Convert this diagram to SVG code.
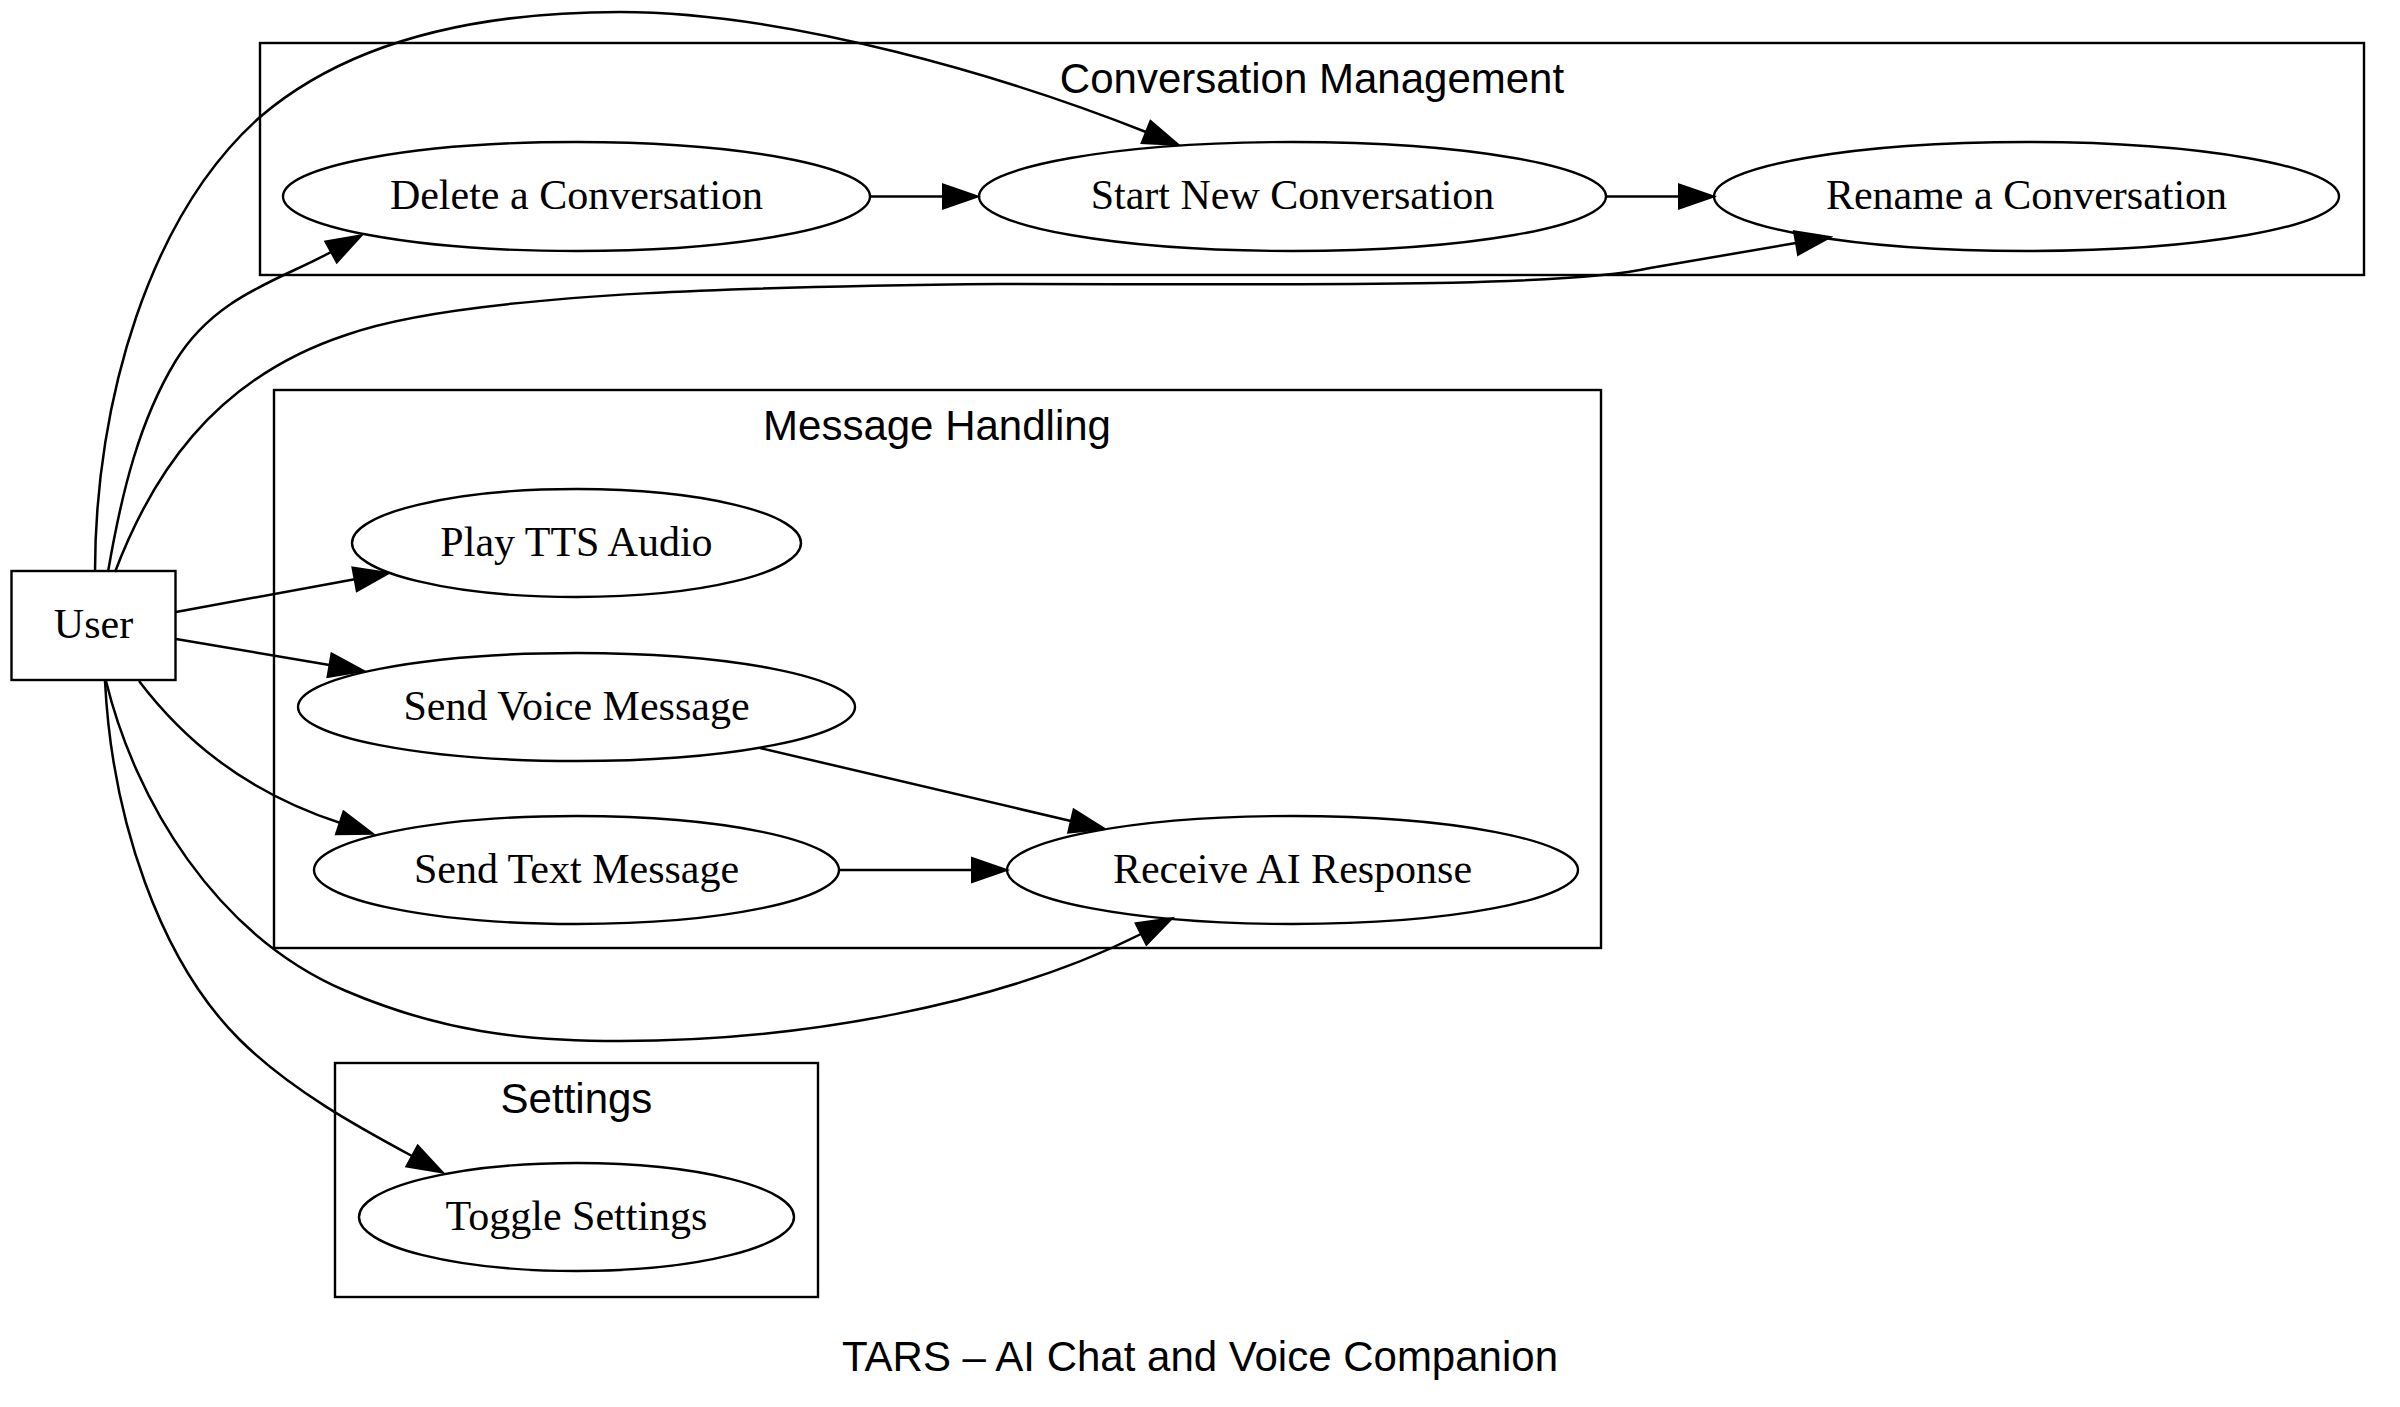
<svg xmlns="http://www.w3.org/2000/svg" width="2400" height="1407" viewBox="0 0 2400 1407">
<defs>
<style>
.cl{fill:none;stroke:#000;stroke-width:2.4}
.nd{fill:none;stroke:#000;stroke-width:2.4}
.ed{fill:none;stroke:#000;stroke-width:2.5;marker-end:url(#ah)}
.ct{font-family:"Liberation Sans",Arial,sans-serif;font-size:42px;text-anchor:middle;fill:#000}
.nt{font-family:"Liberation Serif","Times New Roman",serif;font-size:42px;text-anchor:middle;fill:#000}
</style>
<marker id="ah" markerUnits="userSpaceOnUse" markerWidth="40" markerHeight="30" refX="0" refY="0" viewBox="-2 -14 40 28" orient="auto">
<path d="M0,-12 L35,0 L0,12 Z" fill="#000" stroke="#000" stroke-width="2"/>
</marker>
</defs>
<rect width="2400" height="1407" fill="#fff"/>

<g id="cluster_conv">
<rect class="cl" x="260" y="43" width="2104" height="232"/>
<text class="ct" x="1312" y="93">Conversation Management</text>
</g>
<g id="cluster_msg">
<rect class="cl" x="274" y="390" width="1327" height="558"/>
<text class="ct" x="937" y="440">Message Handling</text>
</g>
<g id="cluster_settings">
<rect class="cl" x="335" y="1063" width="483" height="234"/>
<text class="ct" x="576.5" y="1113">Settings</text>
</g>

<g id="edges">
<path class="ed" d="M95,572 C95,400 150,215 260,117 C350,40 480,12 620,12 C790,12 1010,78 1146,132"/>
<path class="ed" d="M108,572 C122,490 140,420 175,362 C215,296 280,280 331,252"/>
<path class="ed" d="M115,572 C150,480 210,380 346,335 C470,290 800,286 1000,284 C1300,284 1560,288 1650,268 L1796,243"/>
<path class="ed" d="M176,612 L354.6,579.3"/>
<path class="ed" d="M176,639 L329.5,665.1"/>
<path class="ed" d="M139,681 C180,735 240,790 339.7,822.8"/>
<path class="ed" d="M106,681 C135,800 215,935 346,991 C440,1031 520,1041 620,1041 C800,1041 1000,1005 1141,934"/>
<path class="ed" d="M105,681 C112,820 160,960 239,1039 C290,1090 360,1128 412,1156"/>
<path class="ed" d="M870,196.5 L943,196.5"/>
<path class="ed" d="M1606,196.5 L1679,196.5"/>
<path class="ed" d="M760,748 L1070.9,821"/>
<path class="ed" d="M839,870 L972,870"/>
</g>

<g id="node_user">
<rect class="nd" x="11.5" y="571" width="164" height="109"/>
<text class="nt" x="93.5" y="637.5">User</text>
</g>
<g id="node_delete">
<ellipse class="nd" cx="576.5" cy="196.5" rx="293.5" ry="54.5"/>
<text class="nt" x="576.5" y="209">Delete a Conversation</text>
</g>
<g id="node_start">
<ellipse class="nd" cx="1292.5" cy="196.5" rx="313.5" ry="54.5"/>
<text class="nt" x="1292.5" y="209">Start New Conversation</text>
</g>
<g id="node_rename">
<ellipse class="nd" cx="2026.5" cy="196.5" rx="312.5" ry="54.5"/>
<text class="nt" x="2026.5" y="209">Rename a Conversation</text>
</g>
<g id="node_play">
<ellipse class="nd" cx="576.5" cy="543" rx="224.5" ry="54"/>
<text class="nt" x="576.5" y="555.5">Play TTS Audio</text>
</g>
<g id="node_voice">
<ellipse class="nd" cx="576.5" cy="707" rx="278.5" ry="54"/>
<text class="nt" x="576.5" y="719.5">Send Voice Message</text>
</g>
<g id="node_text">
<ellipse class="nd" cx="576.5" cy="870" rx="262.5" ry="54"/>
<text class="nt" x="576.5" y="882.5">Send Text Message</text>
</g>
<g id="node_receive">
<ellipse class="nd" cx="1292.5" cy="870" rx="285.5" ry="54"/>
<text class="nt" x="1292.5" y="882.5">Receive AI Response</text>
</g>
<g id="node_toggle">
<ellipse class="nd" cx="576.5" cy="1217" rx="217.5" ry="54"/>
<text class="nt" x="576.5" y="1229.5">Toggle Settings</text>
</g>

<g id="graph_title">
<text class="ct" x="1200" y="1371">TARS – AI Chat and Voice Companion</text>
</g>
</svg>
